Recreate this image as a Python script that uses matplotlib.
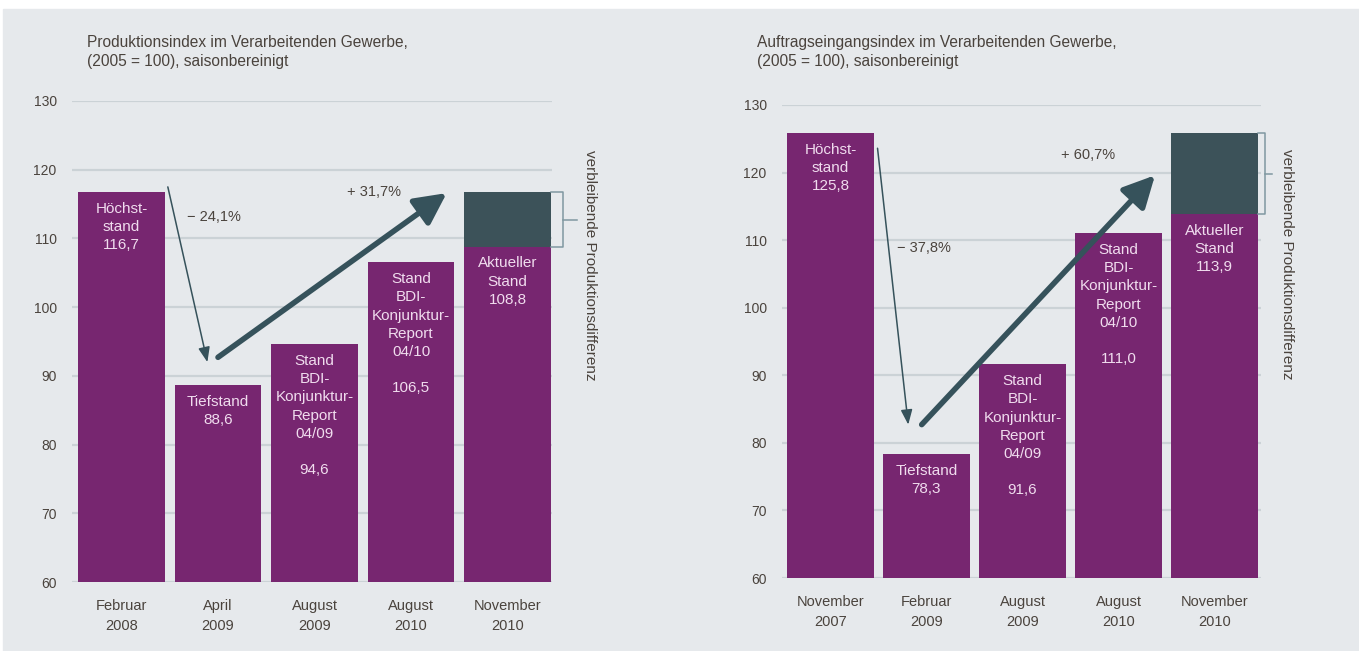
import matplotlib.pyplot as plt
from matplotlib.patches import Rectangle

plt.rcParams['font.family'] = ['Liberation Sans', 'DejaVu Sans']

# Produktionsindex (2005 = 100)
prod_dates = ['Februar\n2008', 'April\n2009', 'August\n2009', 'August\n2010', 'November\n2010']
prod_values = [116.7, 88.6, 94.6, 106.5, 108.8]
prod_notes = ['Höchst-\nstand', 'Tiefstand', 'Stand\nBDI-\nKonjunktur-\nReport\n04/09\n',
              'Stand\nBDI-\nKonjunktur-\nReport\n04/10\n', 'Aktueller\nStand']
prod_title = 'Produktionsindex im Verarbeitenden Gewerbe,\n(2005 = 100), saisonbereinigt'

# Auftragseingangsindex (2005 = 100)
order_dates = ['November\n2007', 'Februar\n2009', 'August\n2009', 'August\n2010', 'November\n2010']
order_values = [125.8, 78.3, 91.6, 111.0, 113.9]
order_notes = ['Höchst-\nstand', 'Tiefstand', 'Stand\nBDI-\nKonjunktur-\nReport\n04/09\n',
               'Stand\nBDI-\nKonjunktur-\nReport\n04/10\n', 'Aktueller\nStand']
order_title = 'Auftragseingangsindex im Verarbeitenden Gewerbe,\n(2005 = 100), saisonbereinigt'

gap_label = 'verbleibende Produktionsdifferenz'

PURPLE = '#772670'
TEAL = '#3c5259'
ARROW = '#36525b'
TEXT = '#4a433d'
GRID = '#cbd2d6'
BG = '#e6e9ec'
BAR_TEXT = '#f0dcee'

W, H = 1359, 651
fig = plt.figure(figsize=(W / 100, H / 100), dpi=100)

# grey panel behind both charts
bg = fig.add_axes([0, 0, 1, 1], zorder=-1)
bg.axis('off')
bg.set_xlim(0, W)
bg.set_ylim(H, 0)
bg.add_patch(Rectangle((3, 9), W, H, color=BG))


def fmt(v):
    return f'{v:.1f}'.replace('.', ',')


def plot_panel(rect, xlim, dates, values, notes, title, title_x, style):
    ax = fig.add_axes(rect)
    ax.set_facecolor('none')
    x = list(range(len(values)))
    peak = values[0]

    ax.bar(x, values, width=0.9, color=PURPLE, zorder=2)
    ax.bar(x[-1], peak - values[-1], bottom=values[-1], width=0.9, color=TEAL, zorder=2)

    for i, (v, note) in enumerate(zip(values, notes)):
        ax.annotate(note + '\n' + fmt(v), (i, v), xytext=(0, -7), textcoords='offset points',
                    ha='center', va='top', color=BAR_TEXT, fontsize=11, linespacing=1.38,
                    zorder=3)

    ax.set_xlim(*xlim)
    ax.set_ylim(60, 130)
    ax.set_yticks(range(60, 131, 10))
    ax.yaxis.grid(True, color=GRID, lw=1.6)
    ax.set_axisbelow(True)
    ax.set_xticks(x)
    ax.set_xticklabels(dates, linespacing=1.5)
    ax.tick_params(axis='y', length=0, pad=11, labelsize=10, labelcolor=TEXT)
    ax.tick_params(axis='x', length=0, pad=12.5, labelsize=10.5, labelcolor=TEXT)
    for s in ax.spines.values():
        s.set_visible(False)

    # fall from peak to trough, then rise needed back to the peak
    (x0, dy0), (x1, dy1) = style['down']
    ax.annotate('', xy=(x1, values[1] + dy1), xytext=(x0, peak + dy0),
                arrowprops=dict(arrowstyle='-|>,head_length=0.9,head_width=0.35',
                                mutation_scale=10, lw=1.1, color=ARROW,
                                shrinkA=0, shrinkB=0), zorder=4)
    (x0, dy0), (x1, dy1) = style['up']
    ax.annotate('', xy=(x1, peak + dy1), xytext=(x0, values[1] + dy0),
                arrowprops=dict(arrowstyle='-|>,head_length=0.95,head_width=0.48',
                                mutation_scale=20, lw=4, color=ARROW,
                                shrinkA=0, shrinkB=0), zorder=4)

    drop = (values[1] / values[0] - 1) * 100
    rise = (values[0] / values[1] - 1) * 100
    ax.text(*style['drop_pos'], '\u2212 ' + fmt(abs(drop)) + '%', ha='left', va='center',
            fontsize=10.5, color=TEXT)
    ax.text(*style['rise_pos'], '+ ' + fmt(rise) + '%', ha='left', va='center',
            fontsize=10.5, color=TEXT)

    # bracket marking the remaining gap on the last bar
    edge = x[-1] + 0.45
    bx, tx = style['bracket']
    mid = (peak + values[-1]) / 2
    ax.plot([edge, bx, bx, edge], [peak, peak, values[-1], values[-1]],
            color='#7f98a1', lw=1.1, clip_on=False, zorder=3)
    ax.plot([bx, tx], [mid, mid], color='#7f98a1', lw=1.1, clip_on=False, zorder=3)
    ax.text(*style['gap_pos'], gap_label, rotation=-90, ha='center', va='center',
            fontsize=11, color=TEXT, clip_on=False)

    fig.text(title_x, 1 - 35 / H, title, ha='left', va='top', fontsize=11.2,
             color=TEXT, linespacing=1.35)
    return ax


plot_panel([72 / W, 1 - 582 / H, 480 / W, 481 / H], (-0.513, 4.461),
           prod_dates, prod_values, prod_notes, prod_title, 87 / W,
           {'down': ((0.48, 0.8), (0.89, 3.4)),
            'up': ((1.0, 4.1), (3.37, -0.1)),
            'drop_pos': (0.68, 113.1),
            'rise_pos': (2.34, 116.8),
            'bracket': (4.575, 4.72),
            'gap_pos': (4.855, 106.1)})

plot_panel([782 / W, 1 - 578 / H, 479 / W, 473 / H], (-0.505, 4.484),
           order_dates, order_values, order_notes, order_title, 757 / W,
           {'down': ((0.49, -2.2), (0.81, 4.4)),
            'up': ((0.95, 4.4), (3.38, -6.2)),
            'drop_pos': (0.69, 108.8),
            'rise_pos': (2.40, 122.6),
            'bracket': (4.53, 4.6),
            'gap_pos': (4.755, 106.5)})

fig.savefig('out.png', dpi=100)
